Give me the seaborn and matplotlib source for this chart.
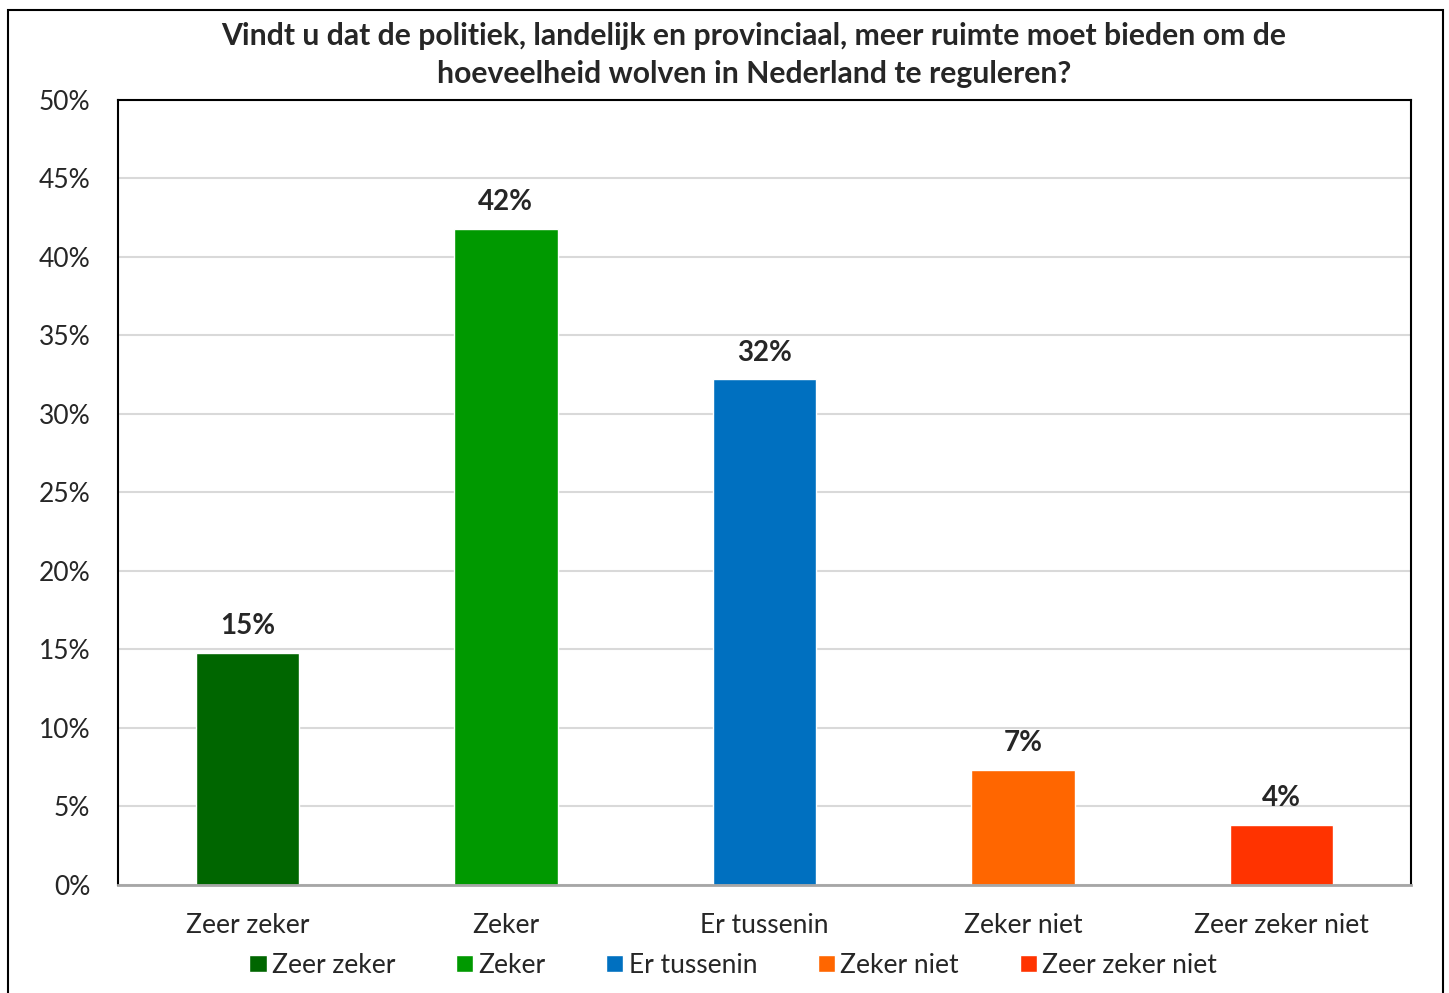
import numpy as np
import pandas as pd
import matplotlib
matplotlib.use("Agg")
import matplotlib.pyplot as plt
from matplotlib.patches import Rectangle
from matplotlib.ticker import PercentFormatter
import seaborn as sns

categories = ["Zeer zeker", "Zeker", "Er tussenin", "Zeker niet", "Zeer zeker niet"]
values = [14.8, 41.8, 32.2, 7.3, 3.8]
colors = ["#006600", "#009900", "#0070C0", "#FF6600", "#FF3300"]
title = ("Vindt u dat de politiek, landelijk en provinciaal, meer ruimte moet bieden om de\n"
         "hoeveelheid wolven in Nederland te reguleren?")

df = pd.DataFrame({"antwoord": categories, "pct": values})

sns.set_style("white")
plt.rcParams['font.family'] = ['Lato', 'DejaVu Sans']

fig = plt.figure(figsize=(14.49, 9.93), dpi=100)
ax = fig.add_axes([0.0814, 0.1088, 0.8924, 0.7905])

sns.barplot(data=df, x="antwoord", y="pct", hue="antwoord",
            palette=colors, width=0.4, saturation=1, ax=ax, legend=True)

ax.set_ylim(0, 50)
ax.set_yticks(np.arange(0, 51, 5))
ax.yaxis.set_major_formatter(PercentFormatter(decimals=0))
ax.grid(axis="y", color="#d9d9d9", linewidth=1.5)
ax.set_axisbelow(True)
ax.set_xlabel("")
ax.set_ylabel("")
ax.tick_params(axis="both", labelsize=19, length=0)
ax.tick_params(axis="y", pad=20)
ax.tick_params(axis="x", pad=20)

for side in ["left", "top", "right"]:
    ax.spines[side].set_color("black")
    ax.spines[side].set_linewidth(1.5)
ax.spines["bottom"].set_color("#a6a6a6")
ax.spines["bottom"].set_linewidth(2)

for cont in ax.containers:
    ax.bar_label(cont, labels=[f"{v:.0f}%" for v in cont.datavalues],
                 padding=10, fontsize=20, fontweight="bold")

fig.text(0.5204, 0.978, title, ha="center", va="top", fontsize=21.7,
         fontweight="bold", linespacing=1.45)

sns.move_legend(ax, "center", bbox_to_anchor=(0.506, 0.028),
                bbox_transform=fig.transFigure, ncol=5, frameon=False,
                title=None, fontsize=19, handlelength=0.65, handleheight=0.65,
                handletextpad=0.2, columnspacing=2.3)

fig.patches.append(Rectangle((8 / 1449, -0.01), 1435 / 1449, 1 - 10 / 993 + 0.01,
                             transform=fig.transFigure, fill=False,
                             edgecolor="black", linewidth=1.5))

fig.savefig("out.png", dpi=100)
